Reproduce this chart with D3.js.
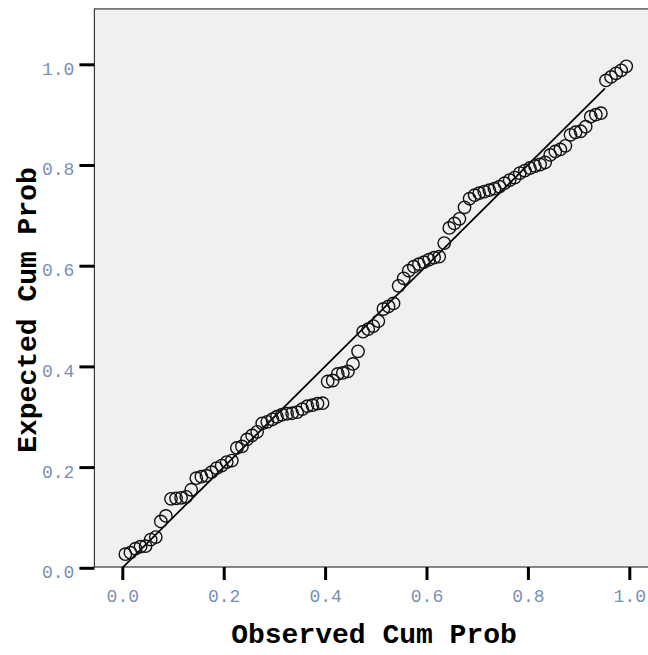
<!DOCTYPE html>
<html>
<head>
<meta charset="utf-8">
<script src="https://cdn.jsdelivr.net/npm/d3@7"></script>
<style>
  html, body { margin: 0; padding: 0; background: #ffffff; }
  svg { display: block; }
</style>
</head>
<body>
<svg id="chart" width="648" height="655"></svg>
<script>
// Observed cumulative probability (x) and expected cumulative probability (y)
const observed = [0.006,0.016,0.026,0.036,0.046,0.056,0.066,0.076,0.086,0.096,
  0.106,0.116,0.126,0.136,0.146,0.156,0.166,0.176,0.186,0.196,
  0.206,0.216,0.226,0.236,0.246,0.256,0.266,0.276,0.286,0.296,
  0.305,0.315,0.325,0.335,0.345,0.355,0.365,0.375,0.385,0.395,
  0.405,0.415,0.425,0.435,0.445,0.455,0.465,0.475,0.485,0.495,
  0.505,0.515,0.525,0.535,0.545,0.555,0.565,0.575,0.585,0.595,
  0.605,0.615,0.625,0.635,0.645,0.655,0.665,0.675,0.685,0.695,
  0.704,0.714,0.724,0.734,0.744,0.754,0.764,0.774,0.784,0.794,
  0.804,0.814,0.824,0.834,0.844,0.854,0.864,0.874,0.884,0.894,
  0.904,0.914,0.924,0.934,0.944,0.954,0.964,0.974,0.984,0.994];
const expected = [0.027,0.030,0.038,0.042,0.043,0.056,0.061,0.092,0.103,0.137,
  0.138,0.139,0.141,0.155,0.178,0.181,0.183,0.190,0.198,0.203,
  0.210,0.213,0.238,0.241,0.255,0.263,0.270,0.287,0.290,0.295,
  0.300,0.304,0.306,0.307,0.309,0.315,0.321,0.323,0.326,0.327,
  0.370,0.372,0.385,0.387,0.390,0.405,0.430,0.469,0.474,0.480,
  0.490,0.514,0.519,0.525,0.560,0.575,0.590,0.598,0.603,0.607,
  0.612,0.616,0.618,0.645,0.675,0.684,0.693,0.716,0.733,0.740,
  0.744,0.747,0.750,0.753,0.757,0.764,0.770,0.775,0.784,0.789,
  0.794,0.798,0.801,0.805,0.820,0.827,0.831,0.838,0.860,0.865,
  0.867,0.876,0.896,0.900,0.903,0.968,0.975,0.982,0.988,0.996];
const tickValues = [0.0, 0.2, 0.4, 0.6, 0.8, 1.0];
const refLine = [0, 0.952];
const xTitle = "Observed Cum Prob";
const yTitle = "Expected Cum Prob";

const svg = d3.select("#chart");
const x = d3.scaleLinear().domain([0, 1]).range([122.3, 629.3]);
const y = d3.scaleLinear().domain([0, 1]).range([567.8, 64.3]);

const plotLeft = x(-0.055), plotTop = y(1.11), plotBottom = 567;

// plot background
svg.append("rect")
  .attr("x", plotLeft).attr("y", plotTop)
  .attr("width", 700 - plotLeft).attr("height", plotBottom - plotTop)
  .attr("fill", "#f0f0f0")
  .attr("stroke", "#3a3a3a").attr("stroke-width", 1.2);

// reference line
svg.append("line")
  .attr("x1", x(refLine[0])).attr("y1", y(refLine[0]))
  .attr("x2", x(refLine[1])).attr("y2", y(refLine[1]))
  .attr("stroke", "#000").attr("stroke-width", 1.7);

// points
const pts = observed.map((v, i) => ({ o: v, e: expected[i] }));
svg.append("g").selectAll("circle").data(pts).join("circle")
  .attr("cx", d => x(d.o)).attr("cy", d => y(d.e))
  .attr("r", 6.2)
  .attr("fill", "none")
  .attr("stroke", "#111").attr("stroke-width", 1.4);

const tickFont = "'Courier New', 'Liberation Mono', monospace";

// x axis
const xAxis = d3.axisBottom(x).tickValues(tickValues).tickFormat(d3.format(".1f"))
  .tickSize(13).tickPadding(9);
const gx = svg.append("g").attr("transform", `translate(0,${plotBottom})`).call(xAxis);
gx.select(".domain").remove();
gx.selectAll(".tick line").attr("stroke", "#000").attr("stroke-width", 3);
gx.selectAll(".tick text")
  .attr("font-family", tickFont).attr("font-size", 18).attr("fill", "#7890b6");

// y axis
const yAxis = d3.axisLeft(y).tickValues(tickValues).tickFormat(d3.format(".1f"))
  .tickSize(15).tickPadding(5);
const gy = svg.append("g").attr("transform", `translate(${plotLeft},0)`).call(yAxis);
gy.select(".domain").remove();
gy.selectAll(".tick line").attr("stroke", "#000").attr("stroke-width", 3);
gy.selectAll(".tick text")
  .attr("font-family", tickFont).attr("font-size", 18).attr("fill", "#7890b6")
  .attr("dy", "0.55em");

// axis titles
svg.append("text")
  .attr("x", 374).attr("y", 643)
  .attr("text-anchor", "middle")
  .attr("font-family", tickFont).attr("font-weight", "bold").attr("font-size", 28)
  .attr("fill", "#000")
  .text(xTitle);

svg.append("text")
  .attr("transform", "translate(36,310) rotate(-90)")
  .attr("text-anchor", "middle")
  .attr("font-family", tickFont).attr("font-weight", "bold").attr("font-size", 28)
  .attr("fill", "#000")
  .text(yTitle);
</script>
</body>
</html>
